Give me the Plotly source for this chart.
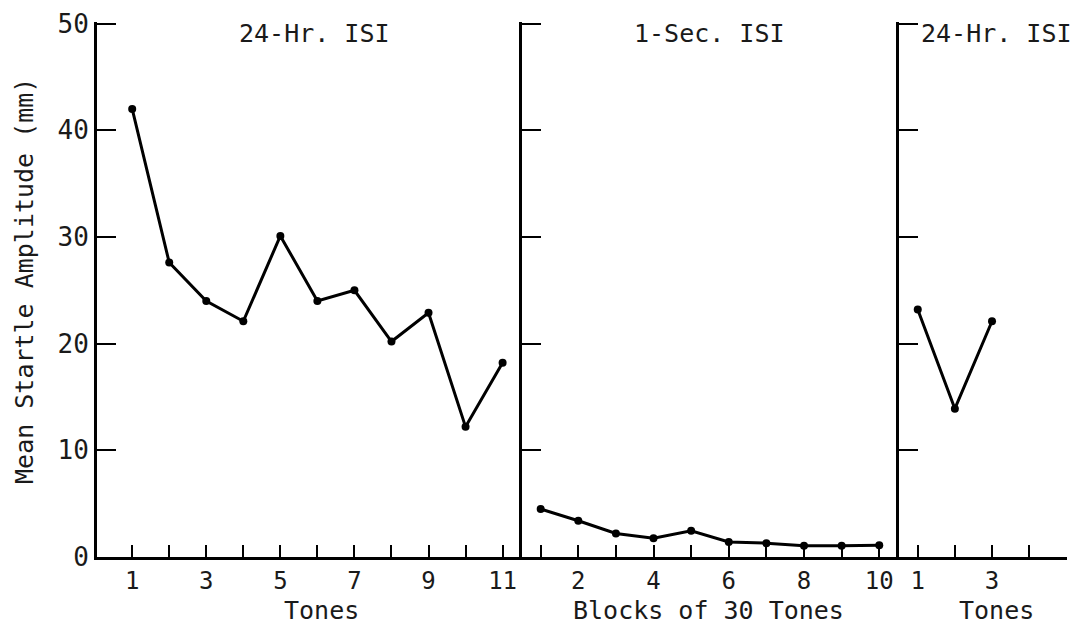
import plotly.graph_objects as go

# ---- data ----
tones_a = [1, 2, 3, 4, 5, 6, 7, 8, 9, 10, 11]
amp_a = [42.0, 27.6, 24.0, 22.1, 30.1, 24.0, 25.0, 20.2, 22.9, 12.2, 18.2]

blocks = [1, 2, 3, 4, 5, 6, 7, 8, 9, 10]
amp_b = [4.5, 3.4, 2.2, 1.75, 2.45, 1.4, 1.3, 1.05, 1.05, 1.1]

tones_c = [1, 2, 3]
amp_c = [23.2, 13.9, 22.1]

ticks_a = [1, 2, 3, 4, 5, 6, 7, 8, 9, 10, 11]
ticklabels_a = ["1", "", "3", "", "5", "", "7", "", "9", "", "11"]
ticks_b = [1, 2, 3, 4, 5, 6, 7, 8, 9, 10]
ticklabels_b = ["", "2", "", "4", "", "6", "", "8", "", "10"]
ticks_c = [1, 2, 3, 4, 5]
ticklabels_c = ["1", "", "3", "", ""]
yticks = [0, 10, 20, 30, 40, 50]
yticklabels = ["0", "10", "20", "30", "40", "50"]

panel_titles = ["24-Hr. ISI", "1-Sec. ISI", "24-Hr. ISI"]
x_titles = ["Tones", "Blocks of 30 Tones", "Tones"]
y_title = "Mean Startle Amplitude (mm)"

FONT = "DejaVu Sans Mono"
TXT = "#1a1a1a"
LW = 3

fig = go.Figure()
line_style = dict(color="black", width=LW)
marker_style = dict(color="black", size=8)
fig.add_trace(go.Scatter(x=tones_a, y=amp_a, mode="lines+markers", line=line_style,
                         marker=marker_style, xaxis="x", yaxis="y", showlegend=False,
                         cliponaxis=False))
fig.add_trace(go.Scatter(x=blocks, y=amp_b, mode="lines+markers", line=line_style,
                         marker=marker_style, xaxis="x2", yaxis="y2", showlegend=False,
                         cliponaxis=False))
fig.add_trace(go.Scatter(x=tones_c, y=amp_c, mode="lines+markers", line=line_style,
                         marker=marker_style, xaxis="x3", yaxis="y3", showlegend=False,
                         cliponaxis=False))

d1 = [0.0, 0.438]
d2 = [0.438, 0.827]
d3 = [0.827, 1.0]

def xax(dom, rng, tv, tt, anchor):
    return dict(domain=dom, range=rng, tickvals=tv, ticktext=tt, ticks="inside",
                ticklen=12, tickwidth=2.4, tickcolor="black", showline=True,
                linecolor="black", linewidth=LW, showgrid=False, zeroline=False,
                anchor=anchor, automargin=False, ticklabeloverflow="allow",
                tickfont=dict(size=24, color=TXT, family=FONT))

def yax(anchor, labels):
    d = dict(domain=[0, 1], range=[0, 50.15], tickvals=yticks, ticks="inside", ticklen=19,
             tickwidth=2.4, tickcolor="black", showline=True, linecolor="black",
             linewidth=LW, showgrid=False, zeroline=False, anchor=anchor, automargin=False,
             ticklabeloverflow="allow",
             tickfont=dict(size=26, color=TXT, family=FONT))
    if labels:
        d["ticktext"] = yticklabels
    else:
        d["showticklabels"] = False
    return d

fig.update_layout(
    width=1080, height=625,
    paper_bgcolor="white", plot_bgcolor="white",
    font=dict(family=FONT, color=TXT),
    margin=dict(l=89, r=21, t=14, b=76),
    xaxis=xax(d1, [0.05, 11.52], ticks_a, ticklabels_a, "y"),
    xaxis2=xax(d2, [0.5, 10.53], ticks_b, ticklabels_b, "y2"),
    xaxis3=xax(d3, [0.5, 5.02], ticks_c, ticklabels_c, "y3"),
    yaxis=yax("x", True),
    yaxis2=yax("x2", False),
    yaxis3=yax("x3", False),
)

# y-axis title
fig.add_annotation(text=y_title, xref="paper", yref="paper", x=-0.0742, y=0.516,
                   textangle=-90, xanchor="center", yanchor="middle", showarrow=False,
                   font=dict(size=25, color=TXT, family=FONT))

# x-axis titles
xt_x = [6.12, 5.47, 3.13]
for t, ax, xv in zip(x_titles, ["x", "x2", "x3"], xt_x):
    fig.add_annotation(text=t, xref=ax, yref="paper", x=xv, y=-0.1,
                       xanchor="center", yanchor="middle", showarrow=False,
                       font=dict(size=25, color=TXT, family=FONT))

# panel titles
ann_x = [5.93, 5.5, 3.12]
for t, ax, xv in zip(panel_titles, ["x", "x2", "x3"], ann_x):
    fig.add_annotation(text=t, xref=ax, yref="paper", x=xv, y=0.979,
                       xanchor="center", yanchor="middle", showarrow=False,
                       font=dict(size=25, color=TXT, family=FONT))

fig.write_html("out.html")
